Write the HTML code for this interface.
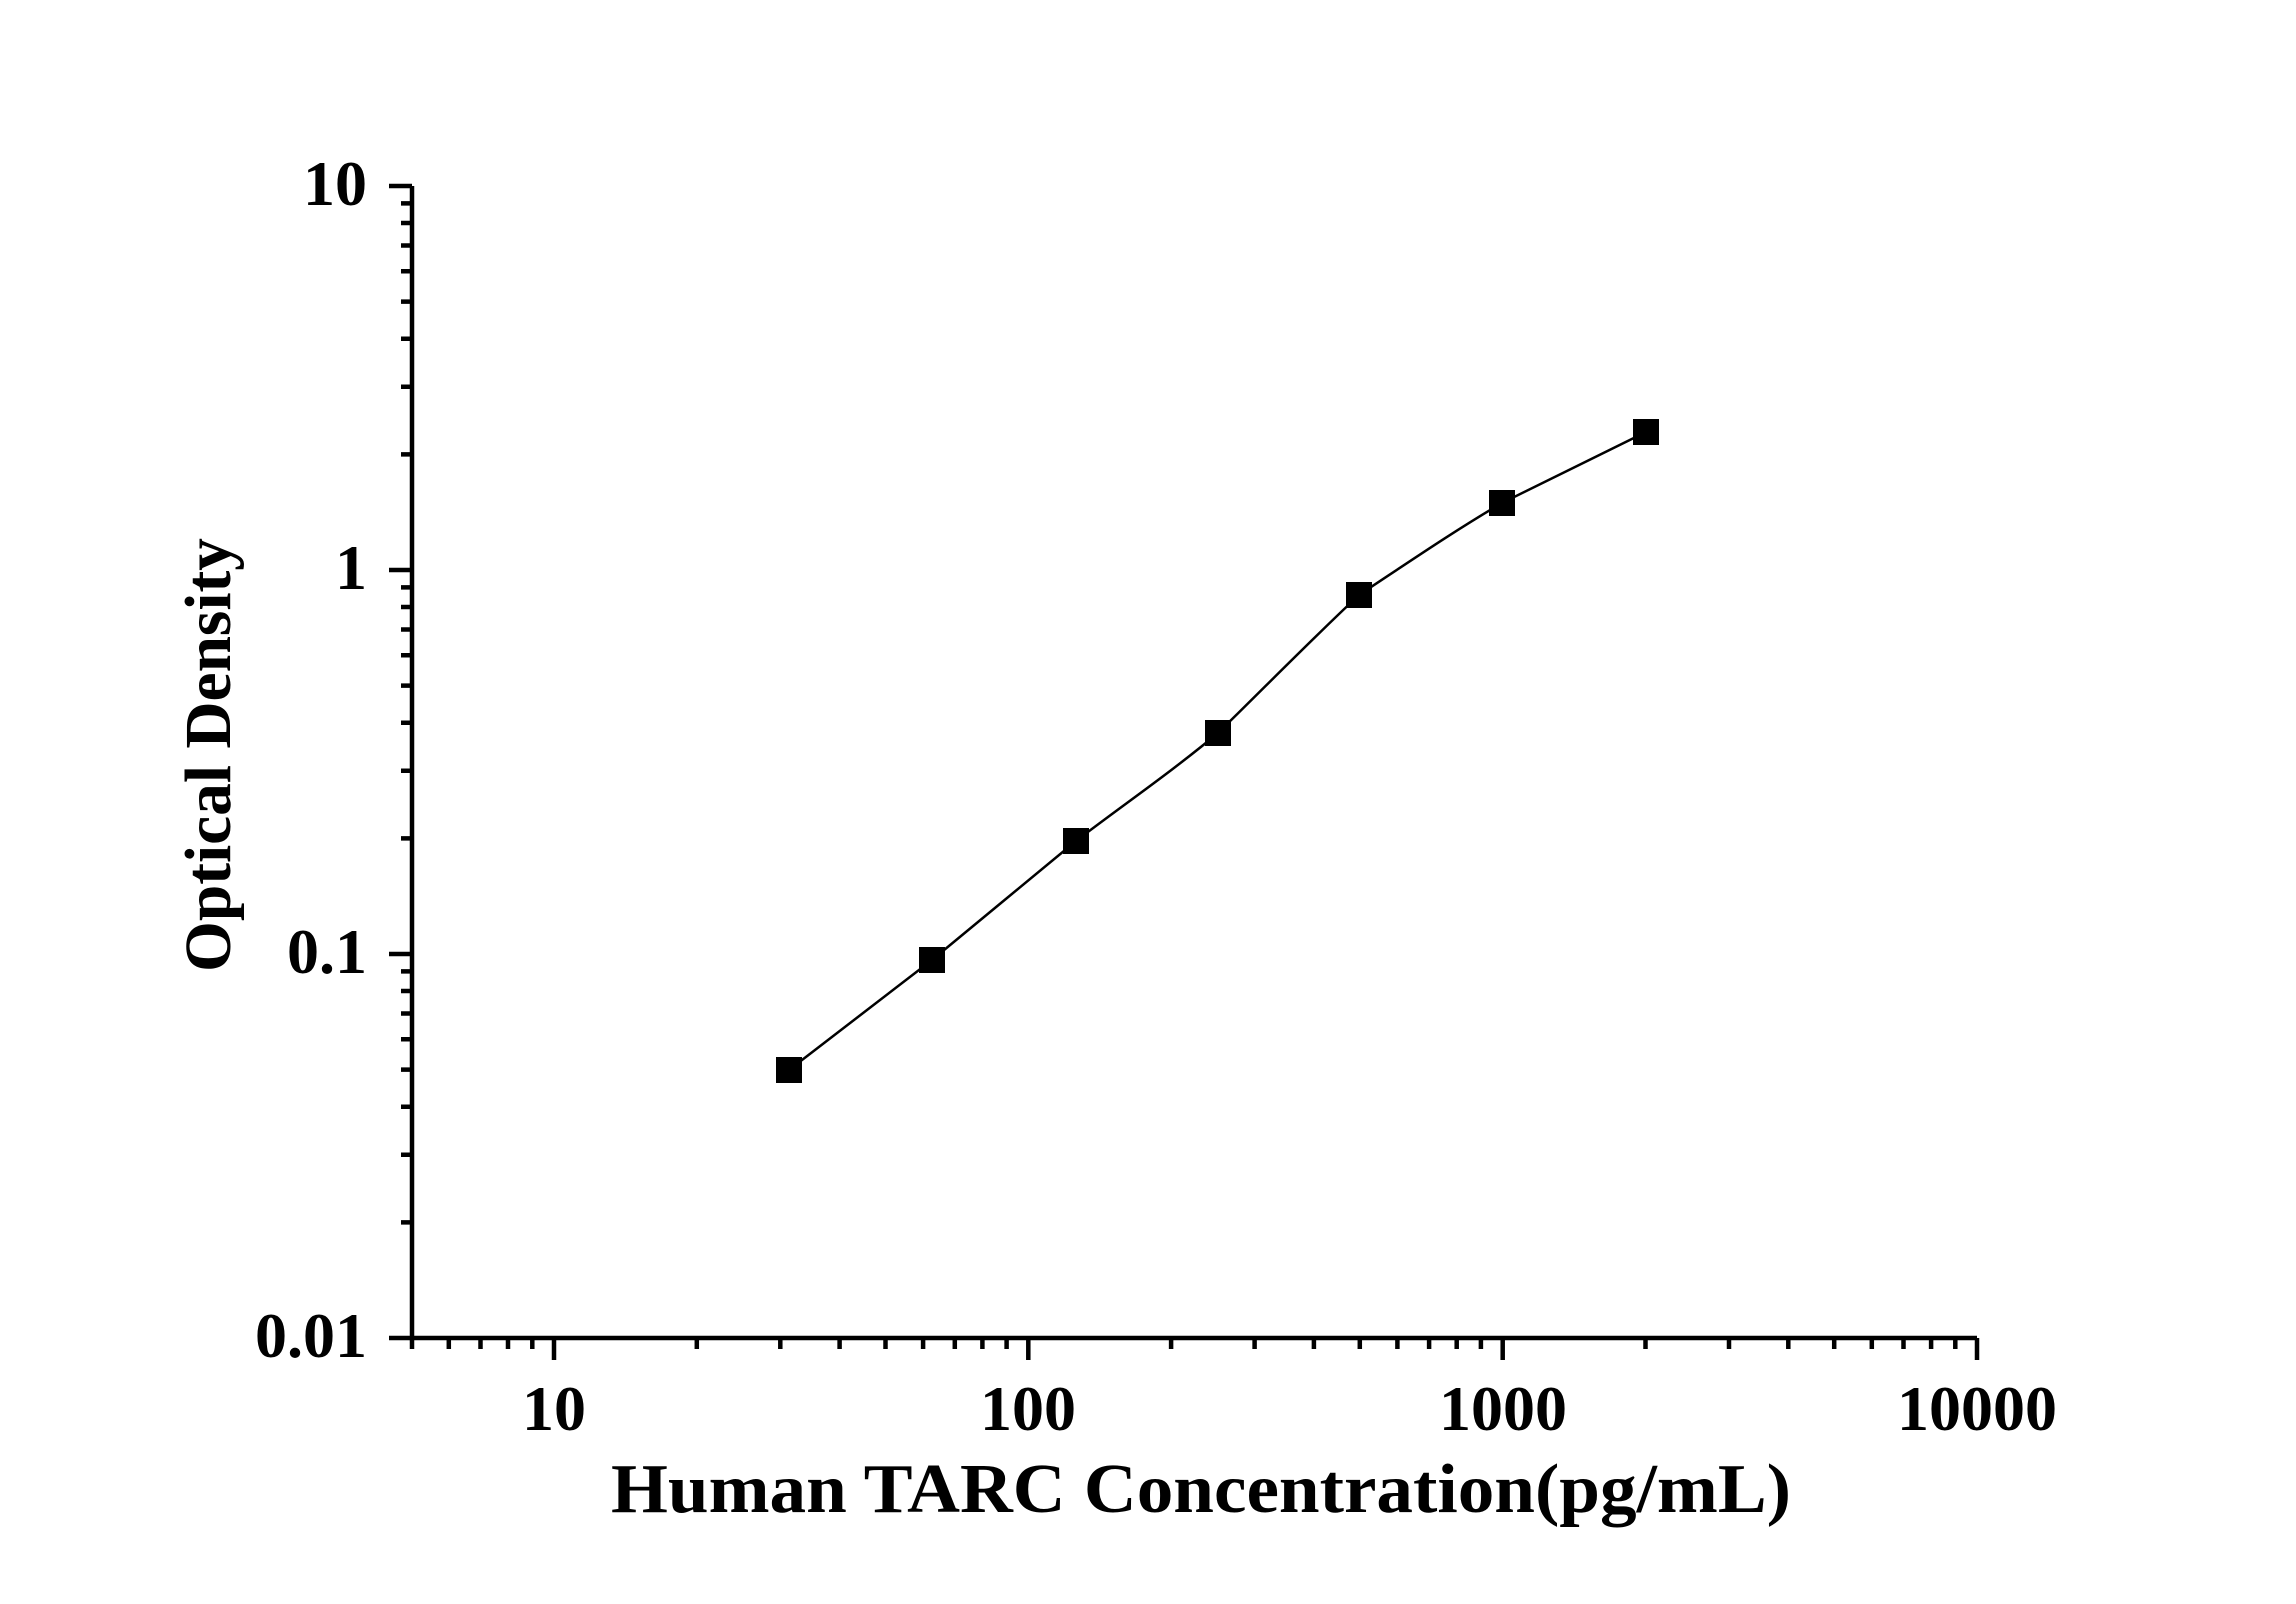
<!DOCTYPE html>
<html><head><style>body{margin:0;background:#fff}svg{display:block}</style></head><body>
<svg width="2296" height="1604" xmlns="http://www.w3.org/2000/svg" font-family="Liberation Serif, serif" font-weight="bold">
<rect width="2296" height="1604" fill="#fff"/>
<g stroke="#000" stroke-width="4.5" fill="none">
<path d="M412,186 V1338 H1977"/>
<g id="xmaj">
<path d="M554,1338v22M1028.3,1338v22M1502.7,1338v22M1977,1338v22"/>
</g>
<path d="M412,1338v11M448.8,1338v11M480.5,1338v11M508,1338v11M532.3,1338v11"/>
<path transform="translate(554,0)" d="M142.8,1338v11M226.3,1338v11M285.6,1338v11M331.5,1338v11M369.1,1338v11M400.8,1338v11M428.4,1338v11M452.6,1338v11"/>
<path transform="translate(1028.3,0)" d="M142.8,1338v11M226.3,1338v11M285.6,1338v11M331.5,1338v11M369.1,1338v11M400.8,1338v11M428.4,1338v11M452.6,1338v11"/>
<path transform="translate(1502.7,0)" d="M142.8,1338v11M226.3,1338v11M285.6,1338v11M331.5,1338v11M369.1,1338v11M400.8,1338v11M428.4,1338v11M452.6,1338v11"/>
<path d="M412,1338h-23M412,954h-23M412,570h-23M412,186h-23"/>
<path transform="translate(0,1338)" d="M412,-115.6h-11M412,-183.2h-11M412,-231.2h-11M412,-268.4h-11M412,-298.8h-11M412,-324.5h-11M412,-347h-11M412,-366.6h-11"/>
<path transform="translate(0,954)" d="M412,-115.6h-11M412,-183.2h-11M412,-231.2h-11M412,-268.4h-11M412,-298.8h-11M412,-324.5h-11M412,-347h-11M412,-366.6h-11"/>
<path transform="translate(0,570)" d="M412,-115.6h-11M412,-183.2h-11M412,-231.2h-11M412,-268.4h-11M412,-298.8h-11M412,-324.5h-11M412,-347h-11M412,-366.6h-11"/>
</g>
<path fill="none" stroke="#000" stroke-width="2.5" d="M789,1070 C837,1033 884,997 932,960 C980,920 1028,881 1076,841 C1123,805 1170,773 1218,733 C1265,687 1311,640 1359,595 C1406,564 1454,531 1502,503 C1550,479 1598,456 1646,432"/>
<g fill="#000">
<rect x="776" y="1057" width="26" height="26"/><rect x="919" y="947" width="26" height="26"/>
<rect x="1063" y="828" width="26" height="26"/><rect x="1205" y="720" width="26" height="26"/>
<rect x="1346" y="582" width="26" height="26"/><rect x="1489" y="490" width="26" height="26"/>
<rect x="1633" y="419" width="26" height="26"/>
</g>
<g font-size="64" fill="#000">
<text x="367" y="205" text-anchor="end">10</text>
<text x="367" y="589" text-anchor="end">1</text>
<text x="367" y="973" text-anchor="end">0.1</text>
<text x="367" y="1357" text-anchor="end">0.01</text>
<text x="554" y="1430" text-anchor="middle">10</text>
<text x="1028" y="1430" text-anchor="middle">100</text>
<text x="1503" y="1430" text-anchor="middle">1000</text>
<text x="1977" y="1430" text-anchor="middle">10000</text>
</g>
<text x="1201" y="1512" font-size="70" text-anchor="middle" textLength="1180" lengthAdjust="spacingAndGlyphs">Human TARC Concentration(pg/mL)</text>
<text transform="translate(230,755) rotate(-90)" font-size="66" text-anchor="middle" textLength="434" lengthAdjust="spacingAndGlyphs">Optical Density</text>
</svg>
</body></html>
